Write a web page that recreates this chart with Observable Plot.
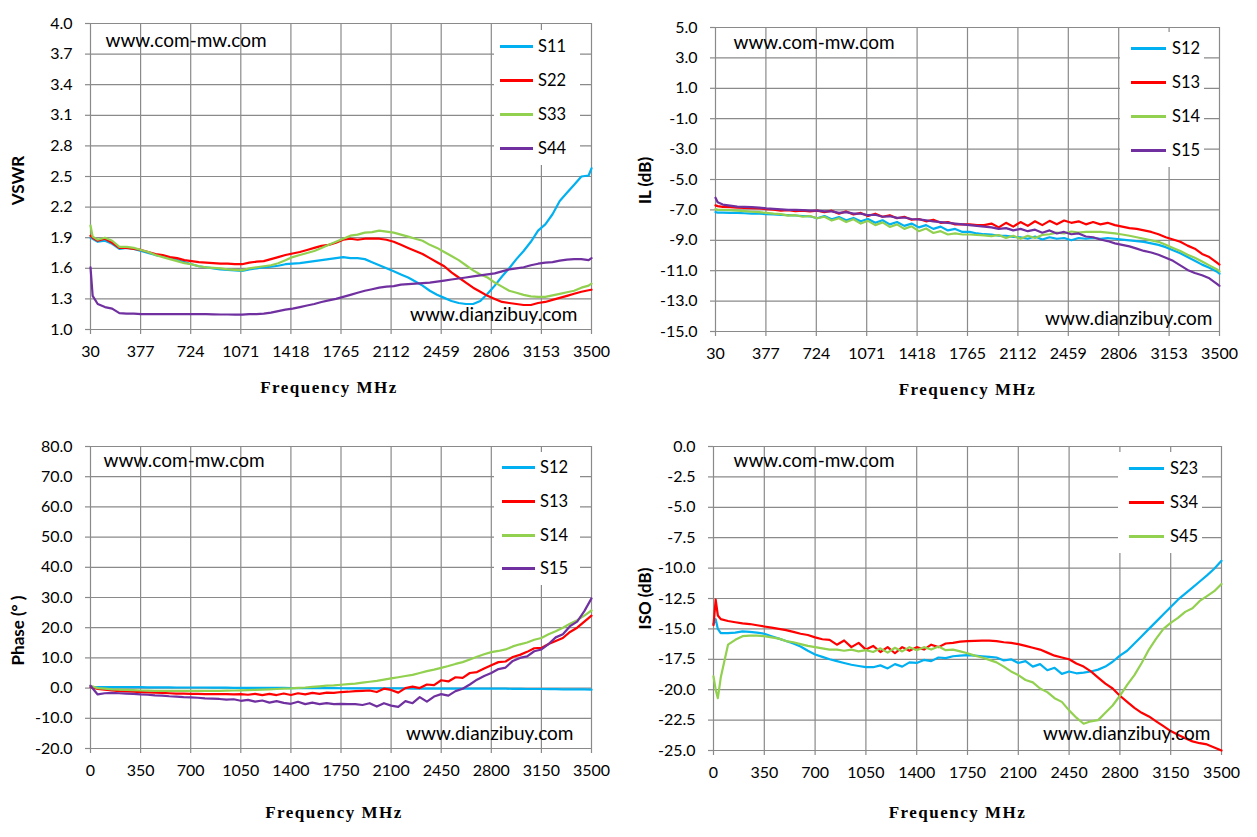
<!DOCTYPE html>
<html><head><meta charset="utf-8">
<script src="https://cdn.jsdelivr.net/npm/d3@7"></script>
<script src="https://cdn.jsdelivr.net/npm/@observablehq/plot@0.6"></script>
<style>
html,body{margin:0;padding:0;background:#fff}
#page{position:relative;width:1257px;height:837px;overflow:hidden;background:#fff;font-family:Lato,sans-serif}
.panel{position:absolute}
.legend{position:absolute;background:#fff}
.sw{position:absolute;height:3px}
.lt{position:absolute;font:16.5px Lato,sans-serif;color:#000;line-height:16px}
</style></head>
<body><div id="page"></div>
<script>
// ---------- frequencies (MHz) ----------
const freqTop = [30,45,80,130,180,230,280,330,380,430,
  480,530,580,630,680,730,780,830,880,930,
  980,1030,1080,1130,1180,1230,1280,1330,1380,1430,
  1480,1530,1580,1630,1680,1730,1780,1830,1880,1930,
  1980,2030,2080,2130,2180,2230,2280,2330,2380,2430,
  2480,2530,2580,2630,2680,2730,2780,2830,2880,2930,
  2980,3030,3080,3130,3180,3230,3280,3330,3380,3430,
  3480,3500];
const freqPhase = [0,50,100,150,200,250,300,350,400,450,
  500,550,600,650,700,750,800,850,900,950,
  1000,1050,1100,1150,1200,1250,1300,1350,1400,1450,
  1500,1550,1600,1650,1700,1750,1800,1850,1900,1950,
  2000,2050,2100,2150,2200,2250,2300,2350,2400,2450,
  2500,2550,2600,2650,2700,2750,2800,2850,2900,2950,
  3000,3050,3100,3150,3200,3250,3300,3350,3400,3450,
  3500];
const freqIso = [0,15,30,50,100,150,200,250,300,350,
  400,450,500,550,600,650,700,750,800,850,
  900,950,1000,1050,1100,1150,1200,1250,1300,1350,
  1400,1450,1500,1550,1600,1650,1700,1750,1800,1850,
  1900,1950,2000,2050,2100,2150,2200,2250,2300,2350,
  2400,2450,2500,2550,2600,2650,2700,2750,2800,2850,
  2900,2950,3000,3050,3100,3150,3200,3250,3300,3350,
  3400,3450,3500];

// ---------- tick labels ----------
const xTicksTop = [30,377,724,1071,1418,1765,2112,2459,2806,3153,3500];
const xTicksBottom = [0,350,700,1050,1400,1750,2100,2450,2800,3150,3500];
const yTicksVSWR = [1.0,1.3,1.6,1.9,2.2,2.5,2.8,3.1,3.4,3.7,4.0];
const yTicksIL = [-15,-13,-11,-9,-7,-5,-3,-1,1,3,5];
const yTicksPhase = [-20,-10,0,10,20,30,40,50,60,70,80];
const yTicksISO = [-25,-22.5,-20,-17.5,-15,-12.5,-10,-7.5,-5,-2.5,0];

// ---------- VSWR ----------
const S11 = [1.90,1.89,1.86,1.87,1.84,1.79,1.80,1.79,1.77,1.75,
  1.73,1.72,1.70,1.68,1.66,1.64,1.62,1.61,1.60,1.59,
  1.585,1.58,1.575,1.59,1.60,1.61,1.615,1.625,1.64,1.645,
  1.65,1.66,1.67,1.68,1.69,1.70,1.71,1.70,1.70,1.69,
  1.66,1.63,1.60,1.57,1.54,1.51,1.47,1.43,1.38,1.34,
  1.31,1.28,1.26,1.25,1.25,1.28,1.35,1.43,1.52,1.60,
  1.69,1.77,1.86,1.97,2.03,2.13,2.26,2.34,2.42,2.50,
  2.51,2.58];
const S22 = [1.92,1.90,1.87,1.89,1.85,1.80,1.80,1.79,1.78,1.76,
  1.74,1.73,1.71,1.70,1.68,1.67,1.66,1.655,1.65,1.645,
  1.645,1.64,1.64,1.655,1.665,1.67,1.69,1.71,1.73,1.745,
  1.76,1.78,1.80,1.82,1.83,1.85,1.88,1.89,1.88,1.89,
  1.89,1.89,1.88,1.86,1.83,1.80,1.77,1.74,1.70,1.66,
  1.62,1.56,1.51,1.46,1.41,1.37,1.33,1.30,1.27,1.26,
  1.25,1.24,1.24,1.26,1.27,1.29,1.31,1.33,1.35,1.37,
  1.385,1.39];
const S33 = [2.02,1.91,1.88,1.90,1.87,1.81,1.81,1.80,1.78,1.76,
  1.73,1.71,1.69,1.67,1.65,1.64,1.62,1.61,1.605,1.60,
  1.59,1.585,1.58,1.60,1.61,1.62,1.63,1.65,1.68,1.71,
  1.73,1.75,1.77,1.80,1.83,1.86,1.89,1.92,1.93,1.95,
  1.955,1.97,1.96,1.95,1.93,1.91,1.89,1.87,1.83,1.80,
  1.76,1.72,1.68,1.63,1.58,1.54,1.51,1.46,1.42,1.38,
  1.36,1.34,1.325,1.32,1.32,1.335,1.35,1.365,1.38,1.41,
  1.43,1.45];
const S44 = [1.61,1.33,1.25,1.22,1.205,1.16,1.155,1.155,1.15,1.15,
  1.15,1.15,1.15,1.15,1.15,1.15,1.15,1.15,1.148,1.147,
  1.147,1.146,1.145,1.15,1.15,1.155,1.165,1.18,1.195,1.205,
  1.22,1.235,1.25,1.27,1.285,1.30,1.32,1.34,1.36,1.38,
  1.395,1.41,1.42,1.425,1.44,1.445,1.45,1.455,1.46,1.47,
  1.48,1.49,1.50,1.51,1.52,1.53,1.54,1.55,1.57,1.59,
  1.60,1.61,1.63,1.645,1.655,1.66,1.675,1.685,1.69,1.69,
  1.68,1.70];

// ---------- IL ----------
const IL12 = [-7.15,-7.18,-7.18,-7.20,-7.20,-7.22,-7.24,-7.25,-7.28,-7.30,
  -7.33,-7.35,-7.37,-7.40,-7.42,-7.55,-7.40,-7.62,-7.47,-7.68,
  -7.53,-7.75,-7.60,-7.85,-7.68,-7.95,-7.80,-8.05,-7.90,-8.15,
  -8.00,-8.25,-8.10,-8.35,-8.25,-8.45,-8.45,-8.55,-8.60,-8.62,
  -8.70,-8.70,-8.78,-8.80,-8.90,-8.75,-8.95,-8.80,-8.90,-8.85,
  -9.00,-8.85,-8.90,-8.85,-8.90,-8.85,-8.90,-8.95,-9.00,-9.05,
  -9.10,-9.20,-9.30,-9.45,-9.65,-9.85,-10.10,-10.35,-10.60,-10.80,
  -11.05,-11.20];
const IL13 = [-6.70,-6.75,-6.80,-6.82,-6.85,-6.87,-6.88,-6.90,-6.95,-6.98,
  -7.05,-7.02,-7.08,-7.05,-7.10,-7.05,-7.15,-7.05,-7.25,-7.10,
  -7.30,-7.20,-7.40,-7.25,-7.45,-7.35,-7.55,-7.45,-7.65,-7.60,
  -7.75,-7.65,-7.85,-7.80,-7.95,-7.95,-7.95,-8.00,-8.00,-7.90,
  -8.15,-7.85,-8.10,-7.80,-8.05,-7.75,-8.00,-7.72,-7.95,-7.70,
  -7.85,-7.75,-7.95,-7.80,-7.95,-7.85,-8.00,-8.10,-8.20,-8.25,
  -8.35,-8.45,-8.60,-8.80,-8.95,-9.10,-9.35,-9.55,-9.90,-10.10,
  -10.45,-10.60];
const IL14 = [-6.95,-7.00,-7.00,-7.02,-7.05,-7.08,-7.12,-7.15,-7.20,-7.25,
  -7.28,-7.38,-7.35,-7.45,-7.40,-7.55,-7.45,-7.70,-7.55,-7.80,
  -7.62,-7.90,-7.72,-8.00,-7.82,-8.12,-7.95,-8.25,-8.08,-8.40,
  -8.22,-8.52,-8.40,-8.62,-8.55,-8.62,-8.62,-8.65,-8.68,-8.72,
  -8.65,-8.85,-8.70,-8.90,-8.70,-8.85,-8.65,-8.60,-8.50,-8.55,
  -8.42,-8.50,-8.45,-8.45,-8.45,-8.50,-8.55,-8.62,-8.70,-8.80,
  -8.90,-9.00,-9.10,-9.30,-9.50,-9.70,-9.95,-10.15,-10.40,-10.65,
  -10.90,-11.05];
const IL15 = [-6.20,-6.50,-6.65,-6.72,-6.78,-6.80,-6.82,-6.85,-6.90,-6.93,
  -6.97,-7.00,-7.00,-7.02,-7.05,-7.05,-7.10,-7.10,-7.20,-7.15,
  -7.25,-7.25,-7.35,-7.32,-7.45,-7.42,-7.52,-7.50,-7.60,-7.62,
  -7.68,-7.75,-7.80,-7.85,-7.90,-7.95,-8.00,-8.05,-8.10,-8.15,
  -8.25,-8.20,-8.35,-8.25,-8.40,-8.30,-8.50,-8.35,-8.55,-8.45,
  -8.60,-8.55,-8.75,-8.80,-8.95,-9.05,-9.20,-9.30,-9.40,-9.55,
  -9.70,-9.80,-9.95,-10.15,-10.35,-10.65,-10.95,-11.15,-11.30,-11.50,
  -11.85,-12.00];

// ---------- Phase ----------
const PH12 = [0.3,0.3,0.3,0.3,0.3,0.3,0.3,0.3,0.25,0.25,
  0.25,0.25,0.2,0.2,0.2,0.2,0.2,0.15,0.15,0.15,
  0.1,0.1,0.1,0.1,0.1,0.05,0.05,0.05,0.0,0.0,
  0.0,0.0,0.0,0.0,0.0,-0.05,-0.1,-0.1,-0.1,-0.1,
  -0.1,-0.1,-0.1,-0.1,-0.1,-0.15,-0.15,-0.15,-0.15,-0.15,
  -0.15,-0.15,-0.15,-0.2,-0.2,-0.2,-0.2,-0.2,-0.2,-0.25,
  -0.25,-0.3,-0.3,-0.3,-0.35,-0.35,-0.4,-0.4,-0.45,-0.45,
  -0.5];
const PH13 = [0.3,-0.3,-0.5,-0.8,-1.0,-1.1,-1.2,-1.3,-1.4,-1.5,
  -1.6,-1.7,-1.8,-1.8,-1.9,-1.9,-2.0,-2.0,-2.0,-2.0,
  -2.1,-2.0,-2.2,-1.9,-2.3,-1.9,-2.3,-1.8,-2.3,-1.7,
  -2.1,-1.6,-1.9,-1.5,-1.6,-1.3,-1.2,-1.0,-0.9,-0.8,
  -1.3,-0.2,-0.6,-1.5,0.0,0.5,0.0,1.2,1.0,2.6,
  2.2,3.6,3.4,5.0,5.3,6.5,7.6,8.6,8.8,10.3,
  11.0,12.0,13.2,13.3,14.6,15.6,16.6,18.6,20.0,22.0,
  24.0];
const PH14 = [0.8,0.0,-0.2,-0.4,-0.5,-0.6,-0.7,-0.8,-0.85,-0.9,
  -0.9,-0.95,-0.95,-0.95,-0.95,-0.95,-0.95,-0.9,-0.9,-0.85,
  -0.8,-0.75,-0.7,-0.6,-0.5,-0.4,-0.3,-0.2,-0.1,0.1,
  0.2,0.4,0.6,0.8,0.9,1.1,1.3,1.5,1.8,2.1,
  2.4,2.8,3.2,3.6,4.0,4.4,5.0,5.6,6.1,6.7,
  7.3,8.0,8.6,9.5,10.4,11.2,11.9,12.3,12.8,13.8,
  14.5,15.1,16.0,16.6,17.8,18.8,20.0,21.3,22.5,24.0,
  25.7];
const PH15 = [0.8,-2.1,-1.7,-1.6,-1.7,-1.8,-1.9,-2.1,-2.2,-2.4,
  -2.5,-2.7,-2.8,-3.0,-3.1,-3.2,-3.4,-3.5,-3.6,-3.8,
  -3.7,-4.2,-3.9,-4.5,-4.1,-4.8,-4.3,-4.9,-5.2,-4.5,
  -5.3,-4.8,-5.3,-5.0,-5.3,-5.2,-5.3,-5.3,-5.6,-5.0,
  -6.1,-5.0,-5.8,-6.2,-4.3,-5.0,-3.0,-4.5,-2.8,-2.0,
  -2.5,-1.0,-0.2,1.2,2.8,4.0,5.0,6.3,6.8,9.0,
  10.0,10.5,12.2,12.8,14.6,16.8,17.8,20.5,22.0,25.5,
  29.7];

// ---------- ISO ----------
const ISO23 = [-14.6,-14.2,-15.0,-15.35,-15.35,-15.3,-15.2,-15.25,-15.3,-15.4,
  -15.6,-15.8,-16.0,-16.2,-16.45,-16.8,-17.1,-17.3,-17.5,-17.65,
  -17.8,-17.95,-18.05,-18.15,-18.15,-18.0,-18.25,-17.9,-18.1,-17.75,
  -17.8,-17.55,-17.65,-17.35,-17.4,-17.25,-17.2,-17.15,-17.2,-17.25,
  -17.3,-17.35,-17.6,-17.5,-17.8,-17.65,-18.1,-17.9,-18.4,-18.2,
  -18.7,-18.5,-18.65,-18.6,-18.5,-18.35,-18.1,-17.7,-17.2,-16.8,
  -16.2,-15.6,-15.0,-14.4,-13.8,-13.2,-12.6,-12.1,-11.6,-11.1,
  -10.6,-10.05,-9.4];
const ISO34 = [-14.7,-12.6,-13.9,-14.2,-14.35,-14.45,-14.55,-14.6,-14.7,-14.8,
  -14.9,-15.0,-15.1,-15.25,-15.4,-15.5,-15.7,-15.85,-15.9,-16.3,
  -15.95,-16.5,-16.15,-16.7,-16.4,-16.9,-16.5,-17.0,-16.5,-16.8,
  -16.5,-16.7,-16.3,-16.5,-16.2,-16.15,-16.05,-16.0,-15.98,-15.97,
  -15.97,-16.0,-16.1,-16.15,-16.25,-16.4,-16.55,-16.7,-16.95,-17.2,
  -17.35,-17.5,-17.85,-18.1,-18.5,-19.0,-19.5,-19.9,-20.5,-21.0,
  -21.5,-21.9,-22.2,-22.6,-23.0,-23.4,-23.7,-24.0,-24.25,-24.4,
  -24.5,-24.75,-25.0];
const ISO45 = [-18.9,-20.0,-20.7,-19.0,-16.3,-15.9,-15.6,-15.55,-15.55,-15.6,
  -15.7,-15.8,-16.0,-16.1,-16.25,-16.4,-16.5,-16.6,-16.7,-16.7,
  -16.8,-16.7,-16.85,-16.75,-16.9,-16.6,-16.95,-16.55,-16.85,-16.5,
  -16.75,-16.5,-16.7,-16.45,-16.75,-16.7,-16.85,-17.0,-17.2,-17.35,
  -17.55,-17.75,-18.1,-18.5,-18.8,-19.2,-19.4,-19.9,-20.2,-20.7,
  -21.0,-21.7,-22.3,-22.8,-22.6,-22.5,-21.9,-21.3,-20.5,-19.6,
  -18.8,-17.8,-16.7,-15.8,-15.0,-14.5,-14.1,-13.6,-13.3,-12.7,
  -12.3,-11.9,-11.3];

const BLUE = "#00B0F0", RED = "#FF0000", GREEN = "#92D050", PURPLE = "#7030A0";
const GRID = "#8a8a8a";

const panels = [
  {left: 0, top: 0, w: 628, h: 410, ml: 90, mr: 37, mt: 23, mb: 81,
   freq: freqTop, xDomain: [30, 3500], xTicks: xTicksTop, yDomain: [1, 4], yTicks: yTicksVSWR,
   series: [{name: "S11", values: S11, color: BLUE}, {name: "S22", values: S22, color: RED},
            {name: "S33", values: S33, color: GREEN}, {name: "S44", values: S44, color: PURPLE}],
   yTitle: "VSWR", yTitleDx: -72, yTitleDy: 4, xTitleDx: -12, xTitleDy: 58,
   wm1: [15, 17], wm2: [-14, -15],
   legend: {left: 494, top: 30, width: 86, height: 135, x0: 500, x1: 533, tx: 538, ys: [46, 80, 114, 148]}},
  {left: 628, top: 0, w: 629, h: 410, ml: 87, mr: 38, mt: 27, mb: 79,
   freq: freqTop, xDomain: [30, 3500], xTicks: xTicksTop, yDomain: [-15, 5], yTicks: yTicksIL,
   series: [{name: "S12", values: IL12, color: BLUE}, {name: "S13", values: IL13, color: RED},
            {name: "S14", values: IL14, color: GREEN}, {name: "S15", values: IL15, color: PURPLE}],
   yTitle: "IL (dB)", yTitleDx: -70, yTitleDy: 1, xTitleDx: 0, xTitleDy: 58,
   wm1: [18, 15], wm2: [-7, -13],
   legend: {left: 1120, top: 32, width: 84, height: 135, x0: 1131, x1: 1166, tx: 1172, ys: [48, 82, 116, 150]}},
  {left: 0, top: 418, w: 628, h: 419, ml: 90, mr: 37, mt: 28, mb: 89,
   freq: freqPhase, xDomain: [0, 3500], xTicks: xTicksBottom, yDomain: [-20, 80], yTicks: yTicksPhase,
   series: [{name: "S12", values: PH12, color: BLUE}, {name: "S13", values: PH13, color: RED},
            {name: "S14", values: PH14, color: GREEN}, {name: "S15", values: PH15, color: PURPLE}],
   yTitle: "Phase (° )", yTitleDx: -72, yTitleDy: 33, xTitleDx: -7, xTitleDy: 64,
   wm1: [13, 14], wm2: [-18, -15],
   legend: {left: 494, top: 452, width: 86, height: 133, x0: 502, x1: 535, tx: 540, ys: [467, 501, 535, 568]}},
  {left: 628, top: 418, w: 629, h: 419, ml: 85, mr: 36, mt: 28, mb: 87,
   freq: freqIso, xDomain: [0, 3500], xTicks: xTicksBottom, yDomain: [-25, 0], yTicks: yTicksISO,
   series: [{name: "S23", values: ISO23, color: BLUE}, {name: "S34", values: ISO34, color: RED},
            {name: "S45", values: ISO45, color: GREEN}],
   yTitle: "ISO (dB)", yTitleDx: -68, yTitleDy: 0, xTitleDx: -10, xTitleDy: 62,
   wm1: [20, 14], wm2: [-11, -17],
   legend: {left: 1118, top: 452, width: 84, height: 101, x0: 1129, x1: 1164, tx: 1170, ys: [468, 502, 536]}}
];

const page = document.getElementById("page");

for (const p of panels) {
  const rows = p.series.flatMap(s => s.values.map((v, i) => ({f: p.freq[i], v, name: s.name})));
  const svg = Plot.plot({
    width: p.w, height: p.h,
    marginLeft: p.ml, marginRight: p.mr, marginTop: p.mt, marginBottom: p.mb,
    style: {fontFamily: "Lato, sans-serif", fontSize: "16px", color: "#000", background: "transparent", overflow: "visible"},
    x: {domain: p.xDomain},
    y: {domain: p.yDomain},
    color: {domain: p.series.map(s => s.name), range: p.series.map(s => s.color)},
    marks: [
      Plot.gridX(p.xTicks, {stroke: GRID, strokeOpacity: 1, strokeWidth: 1.2}),
      Plot.gridY(p.yTicks, {stroke: GRID, strokeOpacity: 1, strokeWidth: 1.2}),
      Plot.axisX(p.xTicks, {tickSize: 5, tickPadding: 11, stroke: GRID, strokeWidth: 1.2, tickFormat: d => String(d), label: null, fontSize: 16}),
      Plot.axisY(p.yTicks, {tickSize: 5, tickPadding: 13, stroke: GRID, strokeWidth: 1.2, tickFormat: d => d.toFixed(1), label: null, fontSize: 16}),
      Plot.line(rows, {x: "f", y: "v", z: "name", stroke: "name", strokeWidth: 2.2}),
      Plot.text([p.yTitle], {text: d => d, frameAnchor: "left", textAnchor: "middle", lineAnchor: "middle", dx: p.yTitleDx, dy: p.yTitleDy, rotate: -90, fontWeight: "bold", fontSize: 17, fill: "#000"}),
      Plot.text(["Frequency MHz"], {text: d => d, frameAnchor: "bottom", textAnchor: "middle", lineAnchor: "middle", dx: p.xTitleDx, dy: p.xTitleDy, fontFamily: "Liberation Serif", fontWeight: "bold", fontSize: 17, fill: "#000"}),
      Plot.text(["www.com-mw.com"], {text: d => d, frameAnchor: "top-left", textAnchor: "start", lineAnchor: "middle", dx: p.wm1[0], dy: p.wm1[1], fontSize: 19, fill: "#000"}),
      Plot.text(["www.dianzibuy.com"], {text: d => d, frameAnchor: "bottom-right", textAnchor: "end", lineAnchor: "middle", dx: p.wm2[0], dy: p.wm2[1], fontSize: 19, fill: "#000"})
    ]
  });
  d3.select(svg).selectAll("text").filter(function() { return this.textContent === "Frequency MHz"; })
    .attr("letter-spacing", "1.5px");
  const holder = document.createElement("div");
  holder.className = "panel";
  holder.style.left = p.left + "px";
  holder.style.top = p.top + "px";
  holder.appendChild(svg);
  page.appendChild(holder);

  const L = p.legend;
  const box = document.createElement("div");
  box.className = "legend";
  Object.assign(box.style, {left: L.left + "px", top: L.top + "px", width: L.width + "px", height: L.height + "px"});
  page.appendChild(box);
  p.series.forEach((s, i) => {
    const sw = document.createElement("div");
    sw.className = "sw";
    Object.assign(sw.style, {left: L.x0 + "px", top: (L.ys[i] - 1.5) + "px", width: (L.x1 - L.x0) + "px", background: s.color});
    page.appendChild(sw);
    const t = document.createElement("div");
    t.className = "lt";
    t.textContent = s.name;
    Object.assign(t.style, {left: L.tx + "px", top: (L.ys[i] - 8) + "px"});
    page.appendChild(t);
  });
}
</script>
</body></html>
